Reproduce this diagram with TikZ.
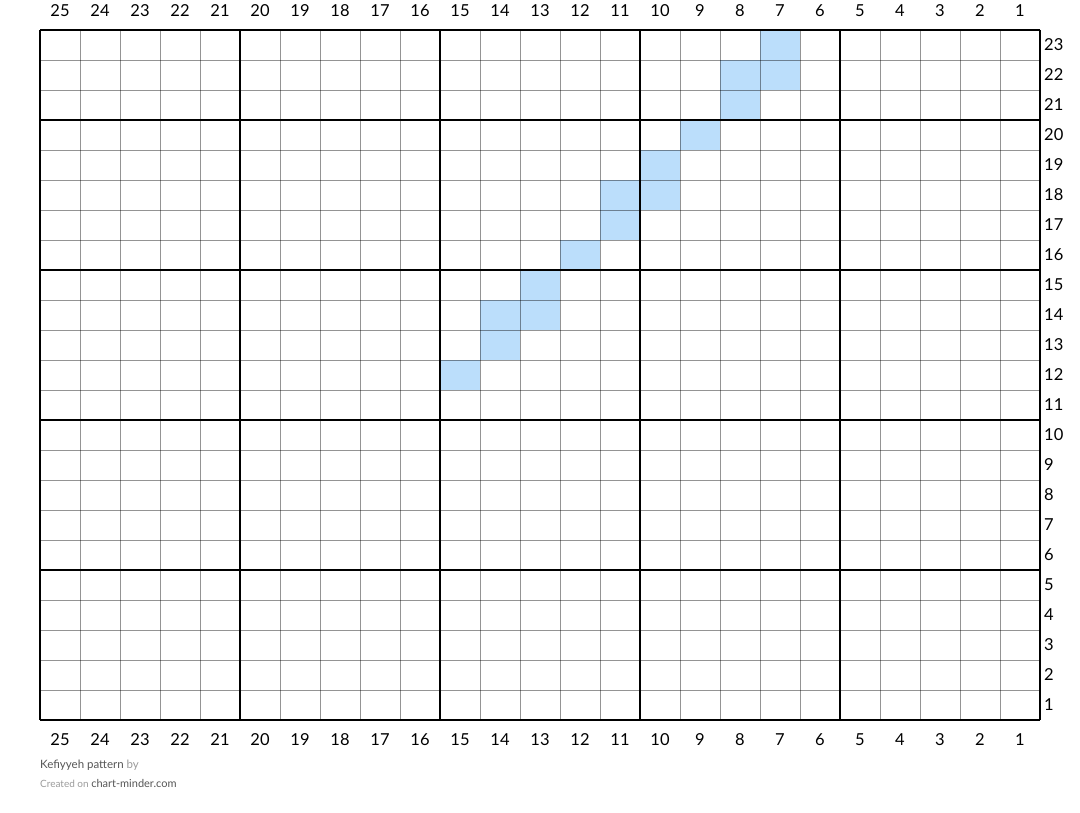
\documentclass[tikz,border=0pt]{standalone}
\usepackage{fontspec}
\setmainfont{Lato}
\usepackage{tikz}
\definecolor{cellfill}{HTML}{BBDEFB}
\definecolor{footdark}{HTML}{555555}
\definecolor{footlight}{HTML}{9A9A9A}

\begin{document}
\begin{tikzpicture}[x=1pt,y=-1pt,
    gridline/.style={draw=black, draw opacity=0.42, line width=0.9pt},
    majorline/.style={draw=black, line width=2pt},
    numlabel/.style={font=\fontsize{16.5}{19}\selectfont, inner sep=0pt},
    foot/.style={anchor=base west, inner sep=0pt}
]
\useasboundingbox (0,0) rectangle (1080,813);
% coloured stitches (column from right, row from bottom)
\foreach \c/\r in {7/23,8/22,7/22,8/21,9/20,10/19,11/18,10/18,11/17,12/16,13/15,14/14,13/14,14/13,15/12}
  \fill[cellfill] ({1040-40*\c},{720-30*\r}) rectangle ++(40,30);
% thin grid
\foreach \i in {1,...,24}
  \draw[gridline] ({40+40*\i},30) -- ({40+40*\i},720);
\foreach \j in {1,...,22}
  \draw[gridline] (40,{30+30*\j}) -- (1040,{30+30*\j});
% every fifth line
\foreach \i in {0,5,...,25}
  \draw[majorline] ({40+40*\i},30) -- ({40+40*\i},720);
\foreach \k in {0,...,4}
  \draw[majorline] (40,{720-150*\k}) -- (1040,{720-150*\k});
\draw[majorline] (40,30) -- (1040,30);
% column numbers
\foreach \c in {1,...,25} {
  \node[numlabel] (top\c) at ({1060-40*\c},11) {\c};
  \node[numlabel] (bot\c) at ({1060-40*\c},740) {\c};
}
% row numbers
\foreach \r in {1,...,23}
  \node[numlabel, anchor=west] (row\r) at (1044,{735-30*\r}) {\r};
% footer
\node[foot] (title) at (40,768) {\fontsize{11.5}{13}\selectfont\textcolor{footdark}{Kefiyyeh pattern} \textcolor{footlight}{by}};
\node[foot] (credit) at (40,787) {\fontsize{10}{12}\selectfont\textcolor{footlight}{Created on} \fontsize{11}{12}\selectfont\textcolor{footdark}{chart-minder.com}};
\end{tikzpicture}
\end{document}
